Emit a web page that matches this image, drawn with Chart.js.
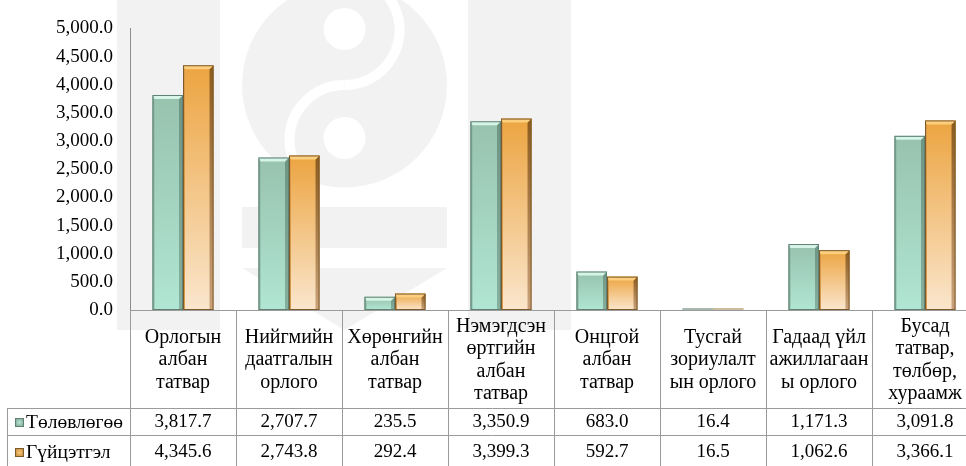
<!DOCTYPE html>
<html><head><meta charset="utf-8">
<script src="https://cdn.jsdelivr.net/npm/chart.js@4.4.1/dist/chart.umd.min.js"></script>
<style>html,body{margin:0;padding:0;background:#fff;overflow:hidden}
#wrap{width:980px;height:466px;position:relative}</style></head>
<body><div id="wrap"><canvas id="c"></canvas></div>
<script>
// ---------- data ----------
const categories = [
  ["Орлогын","албан","татвар"],
  ["Нийгмийн","даатгалын","орлого"],
  ["Хөрөнгийн","албан","татвар"],
  ["Нэмэгдсэн","өртгийн","албан","татвар"],
  ["Онцгой","албан","татвар"],
  ["Тусгай","зориулалт","ын орлого"],
  ["Гадаад үйл","ажиллагаан","ы орлого"],
  ["Бусад","татвар,","төлбөр,","хураамж"]
];
const seriesNames = ["Төлөвлөгөө","Гүйцэтгэл"];
const planValues   = [3817.7, 2707.7, 235.5, 3350.9, 683.0, 16.4, 1171.3, 3091.8];
const actualValues = [4345.6, 2743.8, 292.4, 3399.3, 592.7, 16.5, 1062.6, 3366.1];
const yMin = 0, yMax = 5000, yStep = 500;

// ---------- styles ----------
const FONT = "'Liberation Serif','Times New Roman',serif";
const barStyles = [
  {top:'#97c2ae', bottom:'#b0e6d3', topBevel:'#d6f5e8', rightTop:'#6e9484', rightBottom:'#86b09e', left:'#8cb3a2', outline:'#5f8072', thin:'#a7b8af', markerIn:'#b6e6d4', markerOut:'#7fa595'},
  {top:'#eca440', bottom:'#fae6cd', topBevel:'#fbcf7e', rightTop:'#8c5c1e', rightBottom:'#c9a27a', left:'#d89a48', outline:'#7d5a2c', thin:'#cbbb9f', markerIn:'#f6c878', markerOut:'#c98b3a'}
];
const fmt = v => v.toLocaleString('en-US',{minimumFractionDigits:1,maximumFractionDigits:1});

function barGradient(di){
  return function(ctx){
    const chart = ctx.chart, st = barStyles[di];
    if (!chart.chartArea || ctx.type !== 'data') return st.top;
    const ys = chart.scales.y;
    const t = ys.getPixelForValue(ctx.raw), b = ys.getPixelForValue(0);
    if (!isFinite(t) || !isFinite(b) || b - t < 1) return st.thin;
    const g = chart.ctx.createLinearGradient(0, t, 0, b);
    g.addColorStop(0, st.top); g.addColorStop(1, st.bottom);
    return g;
  };
}

function poly(ctx, pts){
  ctx.beginPath(); ctx.moveTo(pts[0][0], pts[0][1]);
  for (let i=1;i<pts.length;i++) ctx.lineTo(pts[i][0], pts[i][1]);
  ctx.closePath(); ctx.fill();
}

const watermark = {
  id:'watermark',
  beforeDraw(chart){
    const c = chart.ctx; c.save();
    c.fillStyle = '#f2f2f2';
    c.fillRect(117, 0, 103, 330);
    c.fillRect(468, 0, 103, 330);
    c.beginPath(); c.arc(344.5, 85, 102.5, 0, Math.PI*2); c.fill();
    c.fillRect(242, 207, 205, 41);
    poly(c, [[242,268],[447,268],[344.5,330]]);
    c.save();
    c.beginPath(); c.arc(344.5, 85, 102.5, 0, Math.PI*2); c.clip();
    c.strokeStyle = '#ffffff'; c.lineWidth = 10;
    c.beginPath(); c.arc(344.5, 30, 55, -Math.PI/2.6, Math.PI/2, false); c.stroke();
    c.beginPath(); c.arc(344.5, 140, 55, -Math.PI/2, -Math.PI*4/3 + 0.15, true); c.stroke();
    c.fillStyle = '#ffffff';
    c.beginPath(); c.arc(344.5, 29, 21, 0, Math.PI*2); c.fill();
    c.beginPath(); c.arc(344.5, 138, 21, 0, Math.PI*2); c.fill();
    c.restore();
    c.restore();
  }
};

const bevel = {
  id:'bevel',
  afterDatasetsDraw(chart){
    const c = chart.ctx;
    chart.data.datasets.forEach((ds, di) => {
      const st = barStyles[di];
      chart.getDatasetMeta(di).data.forEach(el => {
        const p = el.getProps(['x','y','base','width'], true);
        const l = p.x - p.width/2, r = p.x + p.width/2;
        const t = Math.min(p.y, p.base), b = Math.max(p.y, p.base);
        const h = b - t;
        c.save();
        if (h < 3) {
          c.fillStyle = st.thin;
          c.fillRect(l, b - 2, p.width, 2);
          c.restore();
          return;
        }
        const bv = Math.min(4, h/2);
        c.fillStyle = st.left;
        poly(c, [[l,t],[l+2,t+bv],[l+2,b],[l,b]]);
        const gr = c.createLinearGradient(0, t, 0, b);
        gr.addColorStop(0, st.rightTop); gr.addColorStop(1, st.rightBottom);
        c.fillStyle = gr;
        poly(c, [[r,t],[r,b],[r-bv,b],[r-bv,t+bv]]);
        c.fillStyle = st.topBevel;
        poly(c, [[l,t],[r,t],[r-bv,t+bv],[l+2,t+bv]]);
        c.strokeStyle = st.outline; c.lineWidth = 1;
        c.strokeRect(l+0.5, t+0.5, p.width-1, h-1);
        c.restore();
      });
    });
  }
};

const table = {
  id:'table',
  afterDraw(chart){
    const c = chart.ctx, xs = chart.scales.x, area = chart.chartArea;
    const n = categories.length;
    const cw = (area.right - area.left) / n;
    const top = area.bottom, headBottom = 408, row1 = 435, bottom = 470, legendLeft = 7;
    c.save();
    c.strokeStyle = '#9b9b9b'; c.lineWidth = 1;
    c.beginPath();
    c.moveTo(area.left, top + 0.5); c.lineTo(area.right, top + 0.5);
    c.moveTo(legendLeft, headBottom + 0.5); c.lineTo(area.right, headBottom + 0.5);
    c.moveTo(legendLeft, row1 + 0.5); c.lineTo(area.right, row1 + 0.5);
    c.moveTo(legendLeft + 0.5, headBottom); c.lineTo(legendLeft + 0.5, bottom);
    for (let i = 0; i <= n; i++) {
      const xx = Math.round(area.left + i*cw) + 0.5;
      c.moveTo(xx, top); c.lineTo(xx, bottom);
    }
    c.stroke();
    c.fillStyle = '#000'; c.textAlign = 'center'; c.textBaseline = 'middle';
    c.font = '20px ' + FONT;
    const lh = 22.5, mid = (top + headBottom) / 2 + 1;
    categories.forEach((lines, i) => {
      const cx = xs.getPixelForValue(i);
      const y0 = mid - (lines.length - 1) * lh / 2;
      lines.forEach((s, k) => c.fillText(s, cx, y0 + k*lh));
    });
    const rowsY = [(headBottom + row1)/2 + 1, (row1 + 466)/2 + 2];
    chart.data.datasets.forEach((ds, di) => {
      c.font = '19px ' + FONT;
      c.fillStyle = '#000'; c.textAlign = 'center';
      ds.data.forEach((v, i) => c.fillText(fmt(v), xs.getPixelForValue(i), rowsY[di]));
      // legend entry
      const st = barStyles[di], my = rowsY[di];
      const mg = c.createRadialGradient(19.5, my, 0, 19.5, my, 5);
      mg.addColorStop(0, st.markerIn); mg.addColorStop(1, st.markerOut);
      c.fillStyle = mg; c.fillRect(15, my - 4.5, 9, 9);
      c.strokeStyle = st.outline; c.strokeRect(15.5, my - 4, 8, 8);
      c.fillStyle = '#000'; c.textAlign = 'left';
      c.font = '19.5px ' + FONT;
      c.fillText(seriesNames[di], 26, rowsY[di]);
    });
    c.restore();
  }
};

new Chart(document.getElementById('c'), {
  type:'bar',
  data:{
    labels: categories.map(l => l.join(' ')),
    datasets:[
      {label: seriesNames[0], data: planValues, backgroundColor: barGradient(0), borderWidth:0},
      {label: seriesNames[1], data: actualValues, backgroundColor: barGradient(1), borderWidth:0}
    ]
  },
  options:{
    responsive:true, maintainAspectRatio:false, animation:false,
    layout:{padding:{left:0, right:2, top:26, bottom:156}},
    datasets:{bar:{categoryPercentage:0.576, barPercentage:1.0}},
    plugins:{legend:{display:false}, tooltip:{enabled:false}},
    scales:{
      x:{display:false},
      y:{
        min:yMin, max:yMax,
        afterFit(s){ s.width = 130; },
        grid:{display:false, drawTicks:false, tickLength:0},
        border:{display:true, color:'#8c8c8c', width:1},
        ticks:{stepSize:yStep, padding:17, color:'#000', font:{family:FONT, size:19},
               callback: v => fmt(v)}
      }
    }
  },
  plugins:[watermark, bevel, table]
});
</script></body></html>
